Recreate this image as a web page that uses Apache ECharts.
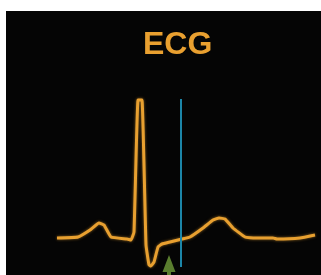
<!DOCTYPE html>
<html>
<head>
<meta charset="utf-8">
<script src="https://cdn.jsdelivr.net/npm/echarts@6/dist/echarts.min.js"></script>
<style>
  html, body { margin: 0; padding: 0; background: #fff; }
  #chart { width: 321px; height: 275px; }
</style>
</head>
<body>
<div id="chart"></div>
<script>
// ECG trace: time in ms, voltage in mV
var timeMs = [0, 84, 132, 168, 188, 216, 280, 296, 308, 324, 340, 356, 368, 376, 388, 404, 420, 452, 500, 532, 584, 624, 648, 672, 704, 752, 792, 864, 880, 972, 1032]
var voltage = [0, 0.01, 0.08, 0.15, 0.13, 0.01, -0.01, -0.02, 0.06, 1.38, 1.38, -0.07, -0.27, -0.28, -0.24, -0.09, -0.06, -0.04, -0.01, 0.01, 0.10, 0.18, 0.20, 0.19, 0.10, 0.01, 0.00, 0.00, -0.01, 0.00, 0.03]
// cursor line (blue) and marker (green arrow)
var cursorTime = 496
var cursorRange = [1.39, -0.29]
var arrowTime = 448
var arrowTip = -0.17

var ecgData = timeMs.map(function (t, i) { return [t, voltage[i]] })
var cursorData = cursorRange.map(function (v) { return [cursorTime, v] })

var chart = echarts.init(document.getElementById('chart'))
var option = {
  backgroundColor: '#fff',
  animation: false,
  graphic: [{
    type: 'rect',
    shape: { x: 6, y: 11, width: 315, height: 264 },
    style: { fill: '#050505' },
    z: -10
  }],
  title: {
    text: 'ECG',
    left: 138,
    top: 24,
    textStyle: { color: '#e9a030', fontSize: 32, fontWeight: 'bold', fontFamily: 'Liberation Sans' }
  },
  grid: { left: 57, right: 4, top: 88, bottom: 7 },
  xAxis: { type: 'value', min: 0, max: 1040, show: false },
  yAxis: { type: 'value', min: -0.3, max: 1.5, show: false },
  series: [
    {
      type: 'line',
      data: ecgData,
      symbol: 'none',
      smooth: 0.1,
      lineStyle: { color: '#e8a030', width: 3, shadowBlur: 3, shadowColor: 'rgba(232,160,48,0.6)' },
      z: 3
    },
    {
      type: 'line',
      data: cursorData,
      symbol: 'none',
      lineStyle: { color: '#1c86a8', width: 2 },
      z: 4
    },
    {
      type: 'scatter',
      data: [[arrowTime, arrowTip]],
      symbol: 'path://M6.5,0 L13,17 L8.5,17 L8.5,22 L4.5,22 L4.5,17 L0,17 Z',
      symbolSize: [13, 22],
      symbolOffset: [0, '50%'],
      itemStyle: { color: '#6f9c3a' },
      z: 5
    }
  ]
}
chart.setOption(option)
</script>
</body>
</html>
